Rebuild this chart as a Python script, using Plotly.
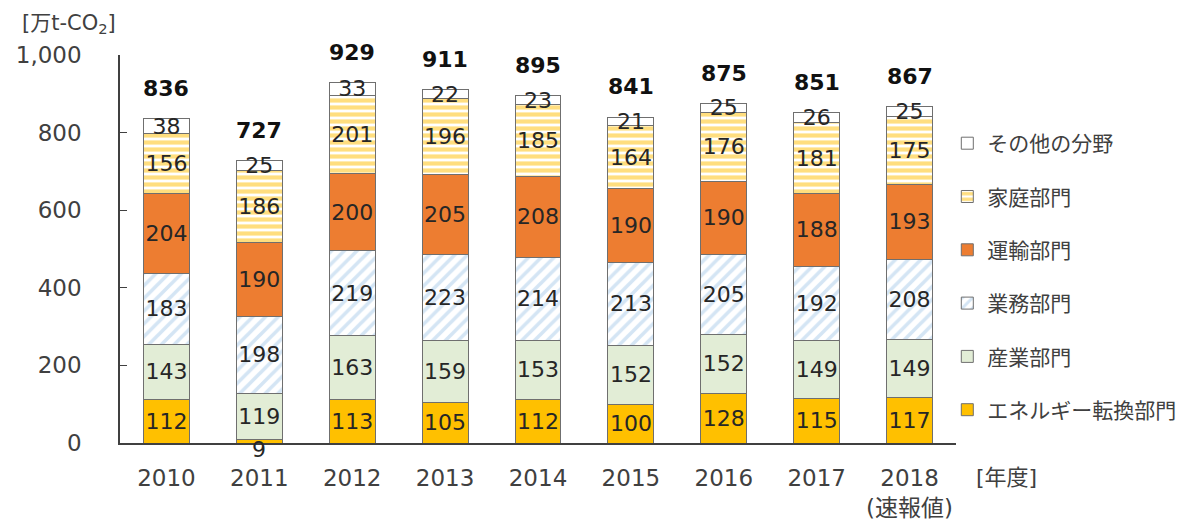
import plotly.graph_objects as go

years = ['2010', '2011', '2012', '2013', '2014', '2015', '2016', '2017', '2018']
tick_labels = ['2010', '2011', '2012', '2013', '2014', '2015', '2016', '2017', '2018<br>(速報値)']

energy = [112, 9, 113, 105, 112, 100, 128, 115, 117]
industry = [143, 119, 163, 159, 153, 152, 152, 149, 149]
business = [183, 198, 219, 223, 214, 213, 205, 192, 208]
transport = [204, 190, 200, 205, 208, 190, 190, 188, 193]
household = [156, 186, 201, 196, 185, 164, 176, 181, 175]
other = [38, 25, 33, 22, 23, 21, 25, 26, 25]
totals = [836, 727, 929, 911, 895, 841, 875, 851, 867]

y_ticks = [0, 200, 400, 600, 800, 1000]
y_ticktext = ['0', '200', '400', '600', '800', '1,000']

FONT = 'DejaVu Sans, Noto Sans CJK JP'
TXT = '#262626'
LINE = dict(color='#6f6f6f', width=1)
LBL = 22

series = [
    ('エネルギー転換部門', energy, dict(color='#FFC000', line=LINE)),
    ('産業部門', industry, dict(color='#E2EDD6', line=LINE)),
    ('業務部門', business, dict(color='white', line=LINE,
                            pattern=dict(shape='/', fgcolor='#A9CBEA', fillmode='overlay', size=9, solidity=0.4))),
    ('運輸部門', transport, dict(color='#ED7D31', line=LINE)),
    ('家庭部門', household, dict(color='white', line=LINE,
                            pattern=dict(shape='-', fgcolor='#FFBE00', fillmode='overlay', size=7, solidity=0.6))),
    ('その他の分野', other, dict(color='white', line=LINE)),
]

fig = go.Figure()
n = len(series)
for i, (name, vals, marker) in enumerate(series):
    texts = [str(v) for v in vals]
    if name == 'エネルギー転換部門':
        texts = ['' if v < 20 else str(v) for v in vals]
    fig.add_trace(go.Bar(
        x=years, y=vals, name=name, marker=marker,
        text=texts, textposition='inside', insidetextanchor='middle', textangle=0,
        textfont=dict(family=FONT, size=LBL, color=TXT),
        legendgroup=name, legendrank=n - i, cliponaxis=False,
    ))

# small value below axis (category index used as x position)
for idx, v in enumerate(energy):
    if v < 20:
        fig.add_annotation(x=idx, y=0, text=str(v), showarrow=False, yanchor='middle', yshift=-6,
                           font=dict(family=FONT, size=LBL, color=TXT))

for idx, t in enumerate(totals):
    fig.add_annotation(x=idx, y=t, text=f'<b>{t}</b>', showarrow=False, yanchor='bottom', yshift=16,
                       font=dict(family=FONT, size=22, color='#111111'))

fig.add_annotation(xref='paper', yref='paper', x=-0.12, y=1.119, xanchor='left', yanchor='top',
                   text='[万t-CO<sub>2</sub>]', showarrow=False,
                   font=dict(family=FONT, size=21, color='#404040'))
fig.add_annotation(xref='paper', yref='paper', x=1.022, y=-0.09, xanchor='left', yanchor='middle',
                   text='[年度]', showarrow=False,
                   font=dict(family=FONT, size=22, color='#404040'))

fig.update_layout(
    width=1185, height=529,
    margin=dict(l=112, r=237, t=47, b=94),
    barmode='stack', bargap=0.505,
    plot_bgcolor='white', paper_bgcolor='white',
    font=dict(family=FONT, color='#404040'),
    uniformtext=dict(minsize=LBL, mode='show'),
    showlegend=True,
    legend=dict(x=0.9896, xanchor='left', y=0.429, yanchor='middle',
                traceorder='grouped', tracegroupgap=23,
                font=dict(family=FONT, size=21, color='#404040'),
                bgcolor='rgba(0,0,0,0)'),
    xaxis=dict(type='category', range=[-0.5, len(years) - 0.5], tickvals=years, ticktext=tick_labels,
               showline=True, linecolor='#404040',
               linewidth=1.5, ticks='', tickfont=dict(family=FONT, size=23, color='#404040'),
               ticklabelstandoff=14, automargin=False),
    yaxis=dict(range=[0, 1000], tickvals=y_ticks, ticktext=y_ticktext, showline=True, linecolor='#404040',
               linewidth=1.5, ticks='inside', ticklen=7, tickcolor='#404040', showgrid=False, zeroline=False,
               tickfont=dict(family=FONT, size=23, color='#404040'), ticklabelstandoff=32, automargin=False),
)

fig.write_html('out.html')
